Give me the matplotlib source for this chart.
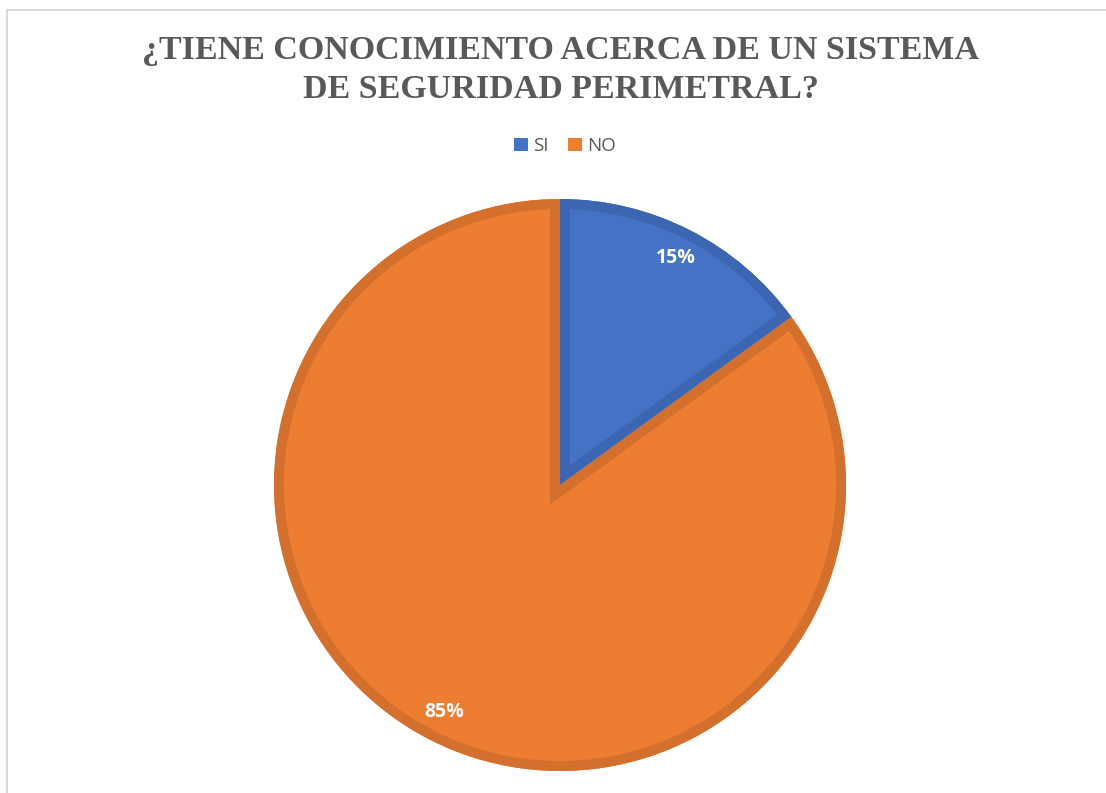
import matplotlib
matplotlib.use('Agg')
import matplotlib.pyplot as plt
import matplotlib.patches as mpatches

labels = ['SI', 'NO']
values = [15, 85]
fill_colors = ['#4472C4', '#ED7D31']
edge_colors = ['#3C66B1', '#D4702D']

W, H = 1106, 793
fig = plt.figure(figsize=(W / 100, H / 100), dpi=100, facecolor='white')

# marco gris claro del gráfico
fig.patches.append(mpatches.Rectangle((7 / W, -0.1), 1.2, 1 - 10 / H + 0.1,
                                      transform=fig.transFigure, fill=False,
                                      edgecolor='#D9D9D9', linewidth=1.5))

ax = fig.add_axes([274 / W, 22 / H, 572 / W, 572 / H])
wedges, texts, autotexts = ax.pie(values, colors=fill_colors, startangle=90,
                                  counterclock=False, autopct='%1.0f%%',
                                  pctdistance=0.89, radius=1.0,
                                  wedgeprops=dict(linewidth=0),
                                  textprops=dict(color='white', fontsize=14,
                                                 fontweight='bold', family='Open Sans'))
ax.set_xlim(-1, 1)
ax.set_ylim(-1, 1)
ax.set_aspect('equal')

# borde interior de cada sector: copia del sector recortada a su propia forma
for w, ec in zip(wedges, edge_colors):
    border = mpatches.Wedge(w.center, w.r, w.theta1, w.theta2, facecolor='none',
                            edgecolor=ec, linewidth=14.4, zorder=2)
    ax.add_patch(border)
    border.set_clip_on(True)
    border.set_clip_path(w)
for t in autotexts:
    t.set_zorder(5)

fig.text(561 / W, 1 - 70 / H,
         '¿TIENE CONOCIMIENTO ACERCA DE UN SISTEMA\nDE SEGURIDAD PERIMETRAL?',
         ha='center', va='center', family='Liberation Serif', fontweight='bold',
         fontsize=24.5, color='#595959', linespacing=1.3)

handles = [mpatches.Patch(facecolor=c, label=l) for c, l in zip(fill_colors, labels)]
fig.legend(handles=handles, loc='center', bbox_to_anchor=(565 / W, 1 - 146 / H),
           ncol=2, frameon=False, handlelength=0.75, handleheight=0.75,
           handletextpad=0.3, columnspacing=1.0, labelcolor='#595959',
           prop=dict(family='Open Sans', size=13.5))

fig.savefig('out.png', dpi=100, facecolor='white')
